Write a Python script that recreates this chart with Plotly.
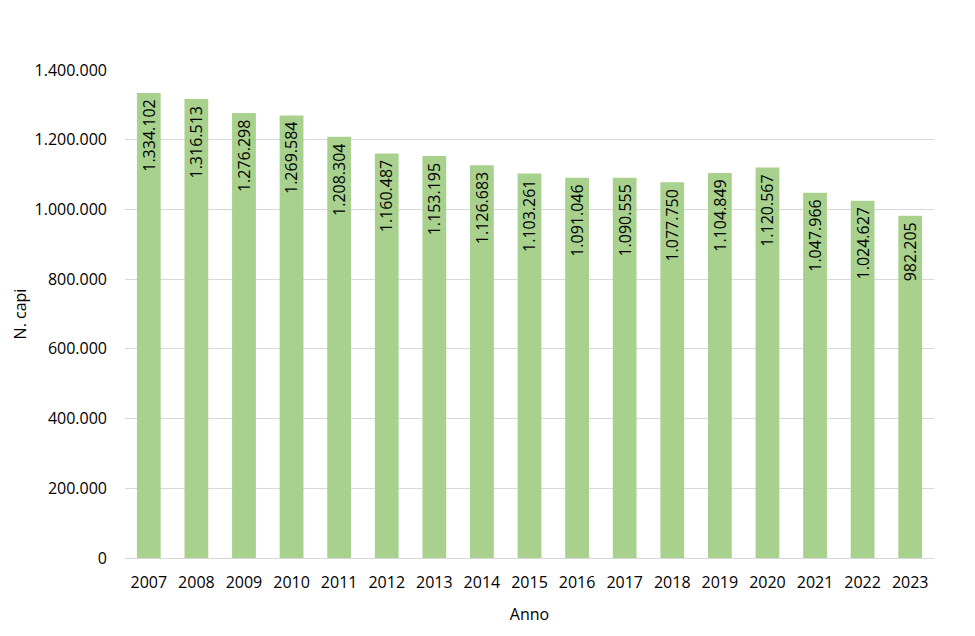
import plotly.graph_objects as go

anni = ["2007", "2008", "2009", "2010", "2011", "2012", "2013", "2014", "2015",
        "2016", "2017", "2018", "2019", "2020", "2021", "2022", "2023"]
capi = [1334102, 1316513, 1276298, 1269584, 1208304, 1160487, 1153195, 1126683,
        1103261, 1091046, 1090555, 1077750, 1104849, 1120567, 1047966, 1024627, 982205]
y_ticks = [0, 200000, 400000, 600000, 800000, 1000000, 1200000, 1400000]

font_family = "Open Sans, Noto Sans, sans-serif"


def it_fmt(v):
    return f"{v:,d}".replace(",", ".")


fig = go.Figure(go.Bar(
    x=anni,
    y=capi,
    marker=dict(color="#A9D18E", line=dict(width=0)),
    hovertemplate="%{x}: %{y:,d}<extra></extra>",
))

# category axis: annotation x given as the category's index on the axis
for i, v in enumerate(capi):
    fig.add_annotation(
        x=i, y=v, xref="x", yref="y",
        text=it_fmt(v), showarrow=False, textangle=-90,
        xanchor="center", yanchor="top", yshift=-5,
        font=dict(family=font_family, size=16, color="#000000"),
    )

fig.update_layout(
    width=975, height=636,
    margin=dict(l=113, r=49, t=62, b=86),
    paper_bgcolor="white", plot_bgcolor="white",
    separators=",.",
    bargap=0.5,
    showlegend=False,
    font=dict(family=font_family, size=16, color="#000000"),
)
fig.update_xaxes(
    type="category",
    title=dict(text="Anno", font=dict(size=16), standoff=16),
    showgrid=False, showline=True, linecolor="#D9D9D9", linewidth=1,
    ticks="", tickfont=dict(size=16), ticklabelstandoff=10,
)
fig.update_yaxes(
    title=dict(text="N. capi", font=dict(size=16), standoff=3),
    range=[0, 1400000], tickvals=y_ticks, tickformat=",d",
    showgrid=True, gridcolor="#D9D9D9", gridwidth=1,
    zeroline=True, zerolinecolor="#D9D9D9", zerolinewidth=1,
    ticks="", tickfont=dict(size=16), ticklabelstandoff=17,
)

fig.write_html("out.html")
